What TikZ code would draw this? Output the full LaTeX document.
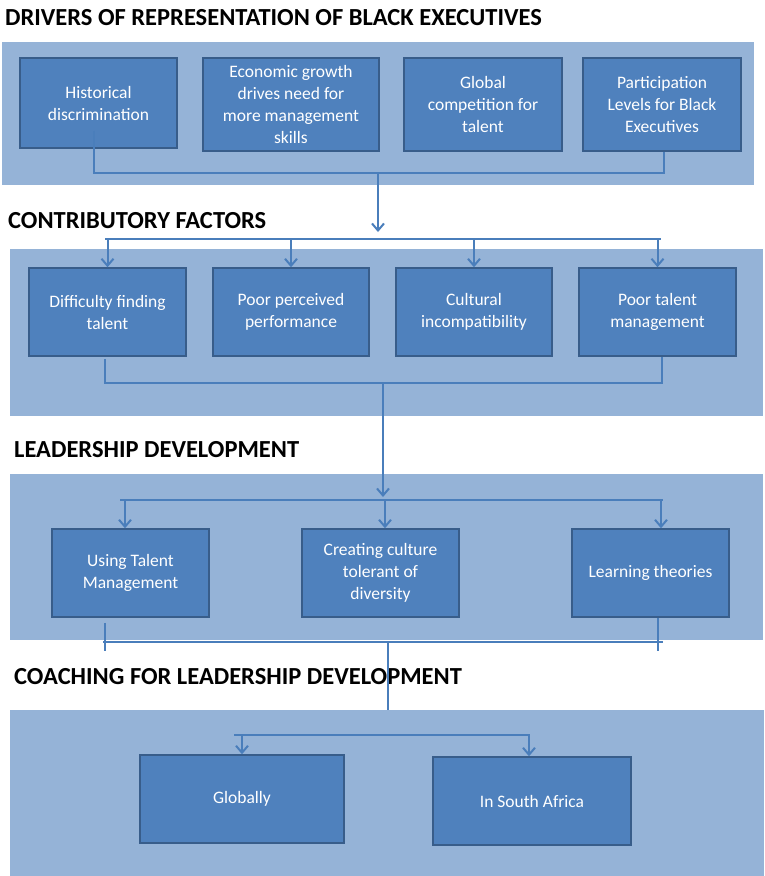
\documentclass[tikz,border=0pt]{standalone}
\usepackage{fontspec}
\setmainfont{Carlito}
\usetikzlibrary{arrows.meta}
\definecolor{panelc}{HTML}{95B3D7}
\definecolor{boxc}{HTML}{4F81BD}
\definecolor{boxline}{HTML}{385D8A}
\definecolor{linec}{HTML}{4A7EBB}
\tikzset{
  panel/.style={fill=panelc, draw=none, inner sep=0pt},
  box/.style={draw=boxline, line width=1.5pt, fill=boxc, text=white,
    font=\fontsize{17.5}{22}\selectfont, align=center, inner sep=0pt},
  conn/.style={draw=linec, line width=2pt},
  arr/.style={conn, -{Straight Barb[length=7pt,width=12pt,line width=2pt]}},
  title/.style={anchor=west, font=\fontsize{24.5}{28}\selectfont\bfseries, text=black, inner sep=0pt},
}
\begin{document}
\begin{tikzpicture}[x=1pt,y=-1pt]
\useasboundingbox (0,0) rectangle (764,876);
\fill[white] (0,0) rectangle (764,876);
% panels
\fill[panelc] (2,42) rectangle (754,185);
\fill[panelc] (10,249) rectangle (763,416);
\fill[panelc] (10,474) rectangle (763,640);
\fill[panelc] (10,710) rectangle (764,876);
% titles
\node[title] (t1) at (5,18) {DRIVERS OF REPRESENTATION OF BLACK EXECUTIVES};
\node[title] (t2) at (8,221) {CONTRIBUTORY FACTORS};
\node[title] (t3) at (14,450) {LEADERSHIP DEVELOPMENT};
\node[title] (t4) at (14,677) {COACHING FOR LEADERSHIP DEVELOPMENT};
% row 1
\node[box, minimum width=157pt, minimum height=90pt] (h1) at (98.5,103) {Historical\\discrimination};
\node[box, minimum width=176pt, minimum height=93pt] (h2) at (291,104.5) {Economic growth\\drives need for\\more management\\skills};
\node[box, minimum width=158pt, minimum height=93pt] (h3) at (483,104.5) {Global\\competition for\\talent};
\node[box, minimum width=158pt, minimum height=93pt] (h4) at (662,104.5) {Participation\\Levels for Black\\Executives};
% row 2
\node[box, minimum width=157pt, minimum height=88pt] (c1) at (107.5,312) {Difficulty finding\\talent};
\node[box, minimum width=156pt, minimum height=88pt] (c2) at (291,312) {Poor perceived\\performance};
\node[box, minimum width=156pt, minimum height=88pt] (c3) at (474,312) {Cultural\\incompatibility};
\node[box, minimum width=157pt, minimum height=88pt] (c4) at (657.5,312) {Poor talent\\management};
% row 3
\node[box, minimum width=157pt, minimum height=88pt] (l1) at (130.5,573) {Using Talent\\Management};
\node[box, minimum width=157pt, minimum height=88pt] (l2) at (380.5,573) {Creating culture\\tolerant of\\diversity};
\node[box, minimum width=157pt, minimum height=88pt] (l3) at (650.5,573) {Learning theories};
% row 4
\node[box, minimum width=204pt, minimum height=88pt] (g1) at (242,799) {Globally};
\node[box, minimum width=198pt, minimum height=88pt] (g2) at (532,801) {In South Africa};
% connectors row 1 -> row 2
\coordinate (j1) at (378,173);
\coordinate (a1) at (378,232);
\draw[conn] ([xshift=-4.5pt,yshift=18pt]h1.south) |- (j1) -| ([xshift=2pt]h4.south);
\draw[arr] (j1) -- (a1);
\coordinate (b2l) at (105,239);
\coordinate (b2r) at (661,239);
\draw[conn] (b2l) -- (b2r);
\draw[arr] (c1.north |- b2l) -- (c1.north);
\draw[arr] (c2.north |- b2l) -- (c2.north);
\draw[arr] (c3.north |- b2l) -- (c3.north);
\draw[arr] (c4.north |- b2l) -- (c4.north);
% row 2 -> row 3
\coordinate (j2) at (383,383);
\coordinate (a2) at (383,497);
\draw[conn] ([xshift=-2.5pt,yshift=-2pt]c1.south) |- (j2) -| ([xshift=4.5pt]c4.south);
\draw[arr] (j2) -- (a2);
\coordinate (b3l) at (120,500);
\coordinate (b3r) at (663,500);
\draw[conn] (b3l) -- (b3r);
\coordinate (s31) at (125,500);
\coordinate (s32) at (385,500);
\coordinate (s33) at (661,500);
\draw[arr] (s31) -- (s31 |- l1.north);
\draw[arr] (s32) -- (s32 |- l2.north);
\draw[arr] (s33) -- (s33 |- l3.north);
% row 3 -> row 4
\coordinate (b4l) at (103,642);
\coordinate (b4r) at (663,642);
\coordinate (j3) at (388,642);
\coordinate (e3) at (388,710);
\draw[conn] (b4l) -- (b4r);
\draw[conn] ([xshift=-25.5pt,yshift=-5pt]l1.south) -- ++(0,28);
\draw[conn] ([xshift=7.5pt]l3.south) -- ++(0,33);
\draw[conn] (j3) -- (e3);
\coordinate (b5l) at (234,735);
\coordinate (b5r) at (530,735);
\draw[conn] (b5l) -- (b5r);
\draw[arr] (g1.north |- b5l) -- (g1.north);
\coordinate (s42) at (529,735);
\draw[arr] (s42) -- (s42 |- g2.north);
\end{tikzpicture}
\end{document}
